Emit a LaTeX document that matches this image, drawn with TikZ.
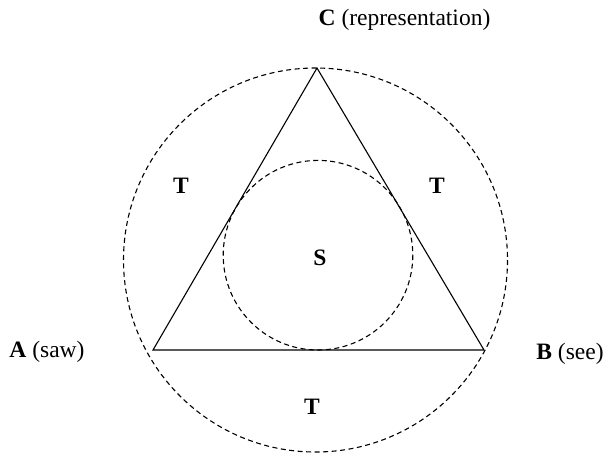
\documentclass[tikz,border=0pt]{standalone}
\usepackage{fontspec}
\setmainfont{Liberation Serif}
\begin{document}
\begin{tikzpicture}[x=1pt,y=-1pt,
  lbl/.style={font=\fontsize{23.5}{25}\selectfont, inner sep=0pt},
  circ/.style={draw, line width=1.1pt, dash pattern=on 5pt off 3.5pt},
  tri/.style={draw, line width=1.1pt, line join=miter}]
\useasboundingbox (0,0) rectangle (609,455);
\coordinate (C) at (317,68);
\coordinate (A) at (153,350);
\coordinate (B) at (484,350);
\coordinate (O) at (315.5,260);
\coordinate (I) at (318,255.2);
\draw[circ] (O) circle[radius=192];
\draw[circ] (I) circle[radius=94.8];
\draw[tri] (A) -- (B) -- (C) -- cycle;
\node[lbl] (lc) at (404.5,20) {\textbf{C} (representation)};
\node[lbl] (la) at (47,352) {\textbf{A} (saw)};
\node[lbl] (lb) at (570,354) {\textbf{B} (see)};
\node[lbl] (t1) at (181,186) {\textbf{T}};
\node[lbl] (t2) at (437,186) {\textbf{T}};
\node[lbl] (t3) at (312,407) {\textbf{T}};
\node[lbl] (s) at (320,258) {\textbf{S}};
\end{tikzpicture}
\end{document}
